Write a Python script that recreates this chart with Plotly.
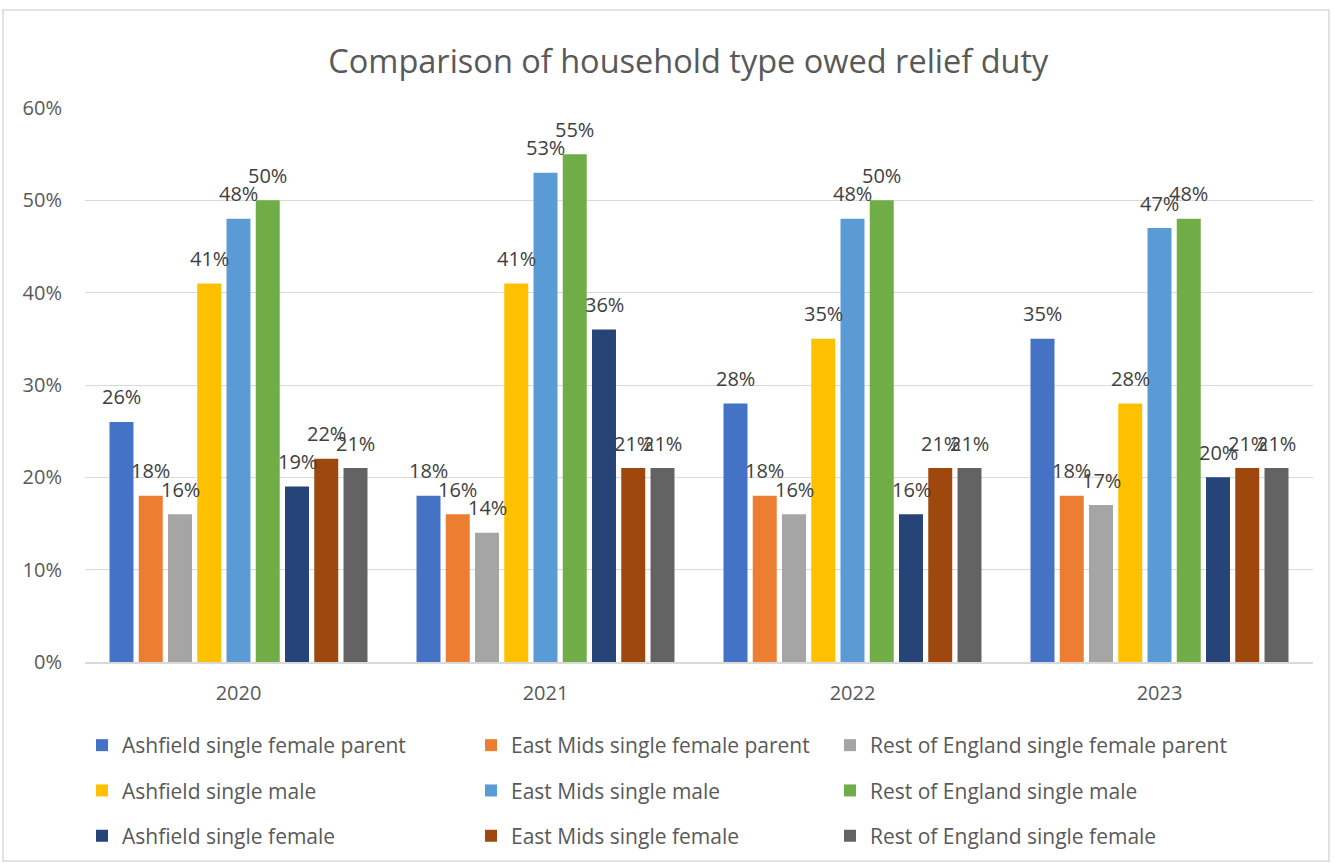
import plotly.graph_objects as go

years = ["2020", "2021", "2022", "2023"]
series_names = [
    "Ashfield single female parent", "East Mids single female parent", "Rest of England single female parent",
    "Ashfield single male", "East Mids single male", "Rest of England single male",
    "Ashfield single female", "East Mids single female", "Rest of England single female",
]
ashfield_sfp = [0.26, 0.18, 0.28, 0.35]
eastmids_sfp = [0.18, 0.16, 0.18, 0.18]
roe_sfp = [0.16, 0.14, 0.16, 0.17]
ashfield_sm = [0.41, 0.41, 0.35, 0.28]
eastmids_sm = [0.48, 0.53, 0.48, 0.47]
roe_sm = [0.50, 0.55, 0.50, 0.48]
ashfield_sf = [0.19, 0.36, 0.16, 0.20]
eastmids_sf = [0.22, 0.21, 0.21, 0.21]
roe_sf = [0.21, 0.21, 0.21, 0.21]
values = [ashfield_sfp, eastmids_sfp, roe_sfp, ashfield_sm, eastmids_sm, roe_sm,
          ashfield_sf, eastmids_sf, roe_sf]
colors = ["#4472C4", "#ED7D31", "#A5A5A5", "#FFC000", "#5B9BD5", "#70AD47",
          "#264478", "#9E480E", "#636363"]
legend_ids = ["legend", "legend2", "legend3"] * 3

FONT = "Open Sans"
BARGAP = 0.1425
BARGROUPGAP = 0.18
n = len(series_names)

fig = go.Figure()
for i, (name, vals, col) in enumerate(zip(series_names, values, colors)):
    fig.add_trace(go.Bar(
        x=years, y=vals, name=name, marker=dict(color=col, line=dict(width=0)),
        legend=legend_ids[i], legendgroup=name,
    ))
    # data labels above each bar, placed through the axis scales
    slot = (1 - BARGAP) / n
    for j, v in enumerate(vals):
        fig.add_annotation(
            x=j - (1 - BARGAP) / 2 + slot * (i + 0.5), y=v, xref="x", yref="y",
            text=f"{round(v*100)}%", showarrow=False, yanchor="middle", yshift=25,
            font=dict(family=FONT, size=20, color="#404040"),
        )

W, H = 1334, 863
L, R, T, B = 85, 21, 108, 201
pw, ph = W - L - R, H - T - B

def px(x):
    return (x - L) / pw

def py(y):
    return (H - B - y) / ph

leg_common = dict(orientation="v", yanchor="top", xanchor="left",
                  font=dict(family=FONT, size=21, color="#595959"),
                  tracegroupgap=15, bgcolor="rgba(0,0,0,0)", itemclick=False,
                  itemdoubleclick=False)

fig.update_layout(
    width=W, height=H,
    margin=dict(l=L, r=R, t=T, b=B, autoexpand=False),
    paper_bgcolor="white", plot_bgcolor="white",
    barmode="group", bargap=BARGAP, bargroupgap=BARGROUPGAP,
    title=dict(text="Comparison of household type owed relief duty",
               font=dict(family=FONT, size=32.5, color="#595959"),
               x=0.516, xanchor="center", y=1 - 62 / H, yanchor="middle"),
    font=dict(family=FONT, color="#595959"),
    legend=dict(x=px(82), y=py(725), **leg_common),
    legend2=dict(x=px(471), y=py(725), **leg_common),
    legend3=dict(x=px(830), y=py(725), **leg_common),
    showlegend=True,
)
fig.update_xaxes(showline=True, linecolor="#D9D9D9", linewidth=1.5, ticks="",
                 tickfont=dict(family=FONT, size=20, color="#595959"), ticklabelstandoff=12)
fig.update_yaxes(range=[0, 0.6], dtick=0.1, tickformat=".0%", showgrid=True,
                 gridcolor="#D9D9D9", gridwidth=1, zeroline=False, ticks="",
                 tickfont=dict(family=FONT, size=20, color="#595959"), ticklabelstandoff=22)

fig.add_shape(type="rect", xref="paper", yref="paper",
              x0=px(3), x1=px(1329), y0=py(861), y1=py(10),
              line=dict(color="#D9D9D9", width=1.5), fillcolor="rgba(0,0,0,0)", layer="below")

fig.write_html("out.html", config={"displayModeBar": False},
               post_script="document.body.style.margin='0';")
